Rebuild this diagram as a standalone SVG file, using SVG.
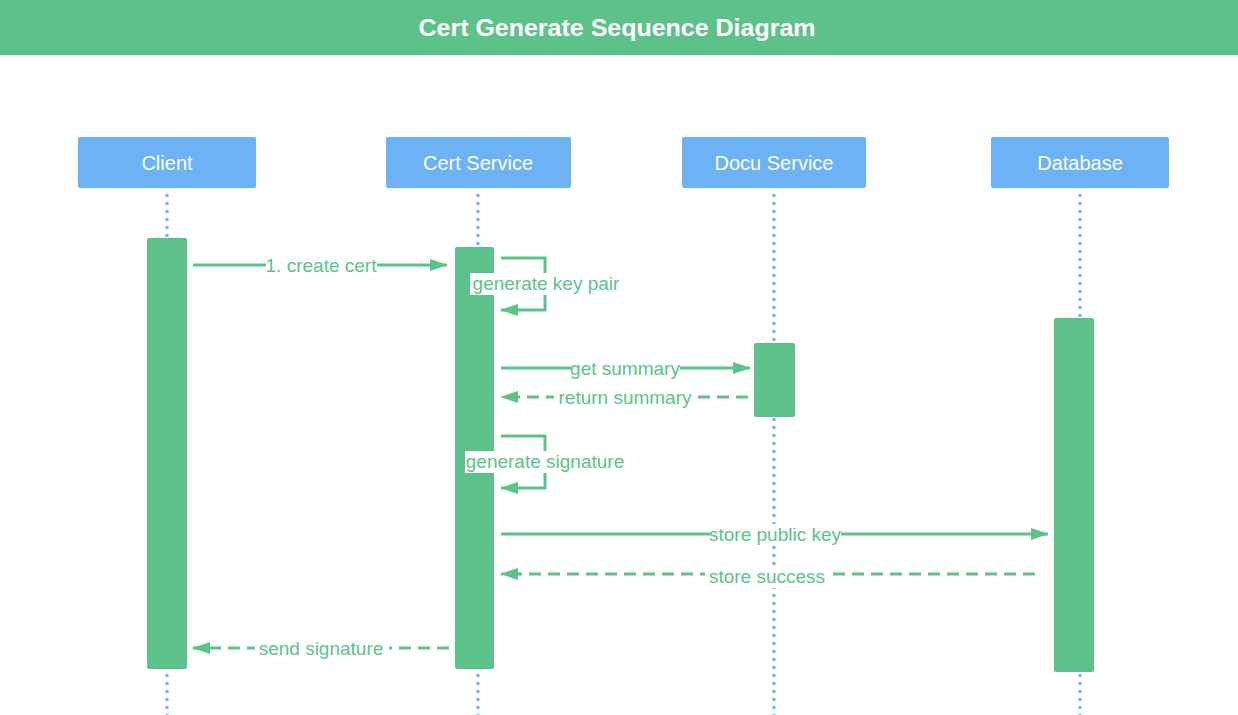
<svg xmlns="http://www.w3.org/2000/svg" width="1238" height="715" viewBox="0 0 1238 715">
<defs>
<marker id="ah" markerWidth="18" markerHeight="12" refX="17" refY="6" orient="auto" markerUnits="userSpaceOnUse">
<path d="M0,0 L18,6 L0,12 Z" fill="#5CC28A"/>
</marker>
<style>
.title{font-family:"Liberation Sans",Arial,sans-serif;font-size:24px;font-weight:bold;fill:#fff;text-anchor:middle}
.actor rect{fill:#6CB2F5}
.actor text{font-family:"Liberation Sans",Arial,sans-serif;font-size:20px;fill:#fff;text-anchor:middle}
.life{stroke:#6CB2F5;stroke-width:3;stroke-dasharray:3 5;fill:none}
.act{fill:#5CC28A}
.msg{stroke:#5CC28A;stroke-width:3;fill:none}
.dash{stroke-dasharray:12 7}
.lbl{font-family:"Liberation Sans",Arial,sans-serif;font-size:19px;fill:#5CC28A;text-anchor:middle}
.bg{fill:#fff}
</style>
</defs>
<rect width="1238" height="715" fill="#fff"/>
<g id="header">
<rect x="0" y="0" width="1238" height="55" fill="#5CC28A"/>
<text class="title" x="617" y="36" textLength="397" lengthAdjust="spacingAndGlyphs">Cert Generate Sequence Diagram</text>
</g>
<g id="lifelines">
<line class="life" x1="167" y1="194" x2="167" y2="715"/>
<line class="life" x1="478" y1="194" x2="478" y2="715"/>
<line class="life" x1="774" y1="194" x2="774" y2="715"/>
<line class="life" x1="1080" y1="194" x2="1080" y2="715"/>
</g>
<g id="client" class="actor"><rect x="78" y="137" width="178" height="51" rx="2"/><text x="167" y="170">Client</text></g>
<g id="cert-service" class="actor"><rect x="386" y="137" width="185" height="51" rx="2"/><text x="478" y="170">Cert Service</text></g>
<g id="docu-service" class="actor"><rect x="682" y="137" width="184" height="51" rx="2"/><text x="774" y="170">Docu Service</text></g>
<g id="database" class="actor"><rect x="991" y="137" width="178" height="51" rx="2"/><text x="1080" y="170">Database</text></g>
<g id="activations">
<rect class="act" x="147" y="238" width="40" height="431" rx="2"/>
<rect class="act" x="455" y="247" width="39" height="422" rx="2"/>
<rect class="act" x="754" y="343" width="41" height="74" rx="2"/>
<rect class="act" x="1054" y="318" width="40" height="354" rx="2"/>
</g>
<g id="connectors">
<line class="msg" x1="193" y1="265" x2="447" y2="265" marker-end="url(#ah)"/>
<rect class="bg" x="266" y="255" width="111" height="22"/>
<text class="lbl" x="321" y="272">1. create cert</text>

<polyline class="msg" points="501,258 545,258 545,310 501,310" marker-end="url(#ah)"/>
<rect class="bg" x="470" y="273" width="151" height="22"/>
<text class="lbl" x="546" y="290">generate key pair</text>

<line class="msg" x1="501" y1="368" x2="750" y2="368" marker-end="url(#ah)"/>
<rect class="bg" x="571" y="358" width="109" height="22"/>
<text class="lbl" x="625" y="375">get summary</text>

<line class="msg dash" x1="748" y1="397" x2="501" y2="397" marker-end="url(#ah)"/>
<rect class="bg" x="554" y="387" width="143" height="22"/>
<text class="lbl" x="625" y="404">return summary</text>

<polyline class="msg" points="501,436 545,436 545,488 501,488" marker-end="url(#ah)"/>
<rect class="bg" x="465" y="451" width="159" height="22"/>
<text class="lbl" x="545" y="468">generate signature</text>

<line class="msg" x1="501" y1="534" x2="1048" y2="534" marker-end="url(#ah)"/>
<rect class="bg" x="710" y="524" width="131" height="22"/>
<text class="lbl" x="775" y="541">store public key</text>

<line class="msg dash" x1="1035" y1="574" x2="501" y2="574" marker-end="url(#ah)"/>
<rect class="bg" x="705" y="566" width="124" height="22"/>
<text class="lbl" x="767" y="583">store success</text>

<line class="msg dash" x1="449" y1="648" x2="193" y2="648" marker-end="url(#ah)"/>
<rect class="bg" x="255" y="638" width="134" height="22"/>
<text class="lbl" x="321" y="655">send signature</text>
</g>
</svg>
